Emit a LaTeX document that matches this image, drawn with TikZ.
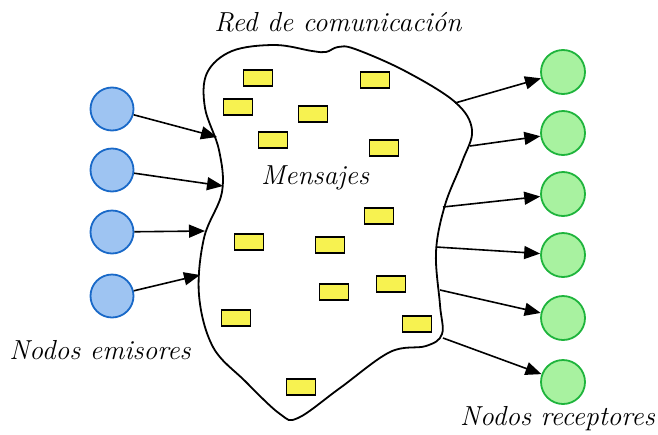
\documentclass[tikz,border=0pt]{standalone}
\usepackage{tikz}
\usetikzlibrary{arrows.meta}

\definecolor{emisorfill}{RGB}{158,196,242}
\definecolor{emisorline}{RGB}{25,105,200}
\definecolor{receptorfill}{RGB}{168,242,160}
\definecolor{receptorline}{RGB}{30,180,60}
\definecolor{msgfill}{RGB}{247,242,80}

\begin{document}
\begin{tikzpicture}[x=1pt, y=-1pt,
  emisor/.style={circle, draw=emisorline, fill=emisorfill, line width=1.8pt, minimum size=43pt, inner sep=0pt},
  receptor/.style={circle, draw=receptorline, fill=receptorfill, line width=1.8pt, minimum size=44pt, inner sep=0pt},
  mensaje/.style={rectangle, draw=black, fill=msgfill, line width=1.6pt, minimum width=29pt, minimum height=16pt, inner sep=0pt},
  flecha/.style={line width=1.6pt, -{Triangle[length=16pt,width=13pt]}},
  rotulo/.style={font=\fontsize{27.5}{33}\selectfont\itshape, inner sep=0pt}]

\useasboundingbox (0,0) rectangle (658,434);

% red de comunicacion
\draw[line width=1.8pt] plot[smooth cycle, tension=0.6] coordinates {
  (232,51) (275,45) (312,51) (326,52) (338,47) (355,49) (405,71) (455,102)
  (472,130) (462,162) (445,205) (436,252) (440,305) (442,334) (426,346)
  (390,352) (340,388) (298,418) (280,414) (245,381) (213,347) (199,295)
  (204,238) (222,192) (219,150) (205,108) (207,73)};

\node[rotulo] (red) at (338,22) {Red de comunicación};
\node[rotulo] (msj) at (315,178) {Mensajes};

% mensajes
\node[mensaje] (m1) at (258,78) {};
\node[mensaje] (m2) at (375,80) {};
\node[mensaje] (m3) at (238,107) {};
\node[mensaje] (m4) at (313,114) {};
\node[mensaje] (m5) at (273,140) {};
\node[mensaje] (m6) at (384,148) {};
\node[mensaje] (m7) at (379,216) {};
\node[mensaje] (m8) at (249,242) {};
\node[mensaje] (m9) at (330,245) {};
\node[mensaje] (m10) at (391,284) {};
\node[mensaje] (m11) at (334,292) {};
\node[mensaje] (m12) at (236,318) {};
\node[mensaje] (m13) at (417,324) {};
\node[mensaje] (m14) at (301,387) {};

% emisores
\node[emisor] (e1) at (112,109) {};
\node[emisor] (e2) at (112,170) {};
\node[emisor] (e3) at (112,232) {};
\node[emisor] (e4) at (112,296) {};
\node[rotulo] (emi) at (100,350) {Nodos emisores};

\coordinate (in1) at (217,137);
\coordinate (in2) at (223,186);
\coordinate (in3) at (205,231);
\coordinate (in4) at (200,275);

\draw[flecha] (e1) -- (in1);
\draw[flecha] (e2) -- (in2);
\draw[flecha] (e3) -- (in3);
\draw[flecha] (e4) -- (in4);

% receptores
\node[receptor] (r1) at (563,72) {};
\node[receptor] (r2) at (563,133) {};
\node[receptor] (r3) at (563,194) {};
\node[receptor] (r4) at (563,255) {};
\node[receptor] (r5) at (563,318) {};
\node[receptor] (r6) at (563,382) {};
\node[rotulo, anchor=east] (rec) at (655,419) {Nodos receptores};

\coordinate (out1) at (455,103);
\coordinate (out2) at (470,146);
\coordinate (out3) at (443,207);
\coordinate (out4) at (436,247);
\coordinate (out5) at (440,290);
\coordinate (out6) at (443,338);

\draw[flecha] (out1) -- (r1);
\draw[flecha] (out2) -- (r2);
\draw[flecha] (out3) -- (r3);
\draw[flecha] (out4) -- (r4);
\draw[flecha] (out5) -- (r5);
\draw[flecha] (out6) -- (r6);

\end{tikzpicture}
\end{document}
